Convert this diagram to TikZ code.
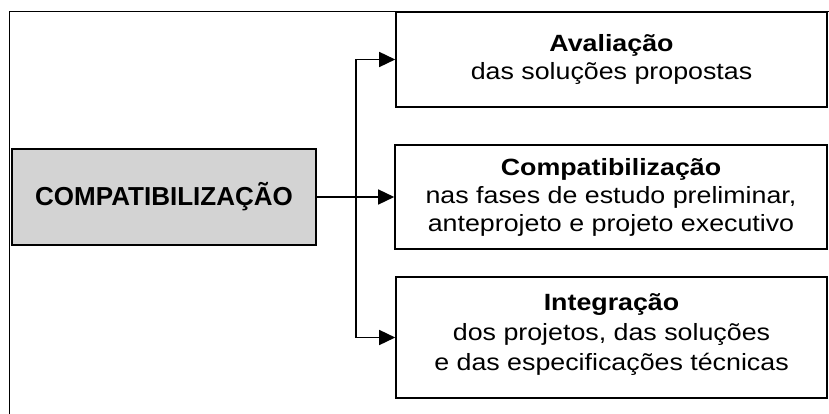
\documentclass[tikz,border=0pt]{standalone}
\usepackage{fontspec}
\setmainfont{Liberation Sans}
\newfontfamily\widefont[FakeStretch=1.14]{Liberation Sans}
\usetikzlibrary{arrows.meta}
\definecolor{boxgray}{RGB}{211,211,211}
\begin{document}
\begin{tikzpicture}[x=1pt,y=-1pt,
  box/.style={draw, line width=1.6pt, inner sep=0pt, align=center,
    font=\widefont\fontsize{23.5}{28}\selectfont},
  conn/.style={line width=1.5pt},
  tip/.style={-{Triangle[length=16pt,width=15pt]}}]
\useasboundingbox (0,0) rectangle (829,414);
\begin{scope}
  \clip (0,0) rectangle (829,414);
  \draw[line width=1.4pt] (9.5,11.5) rectangle (860,440);
\end{scope}
\node[box, fill=boxgray, minimum width=304pt, minimum height=96pt,
  font=\bfseries\fontsize{26}{30}\selectfont] (main) at (164,197) {COMPATIBILIZAÇÃO};
\node[box, minimum width=431pt, minimum height=95.5pt] (b1) at (611.5,59.5)
  {\textbf{Avaliação}\\das soluções propostas};
\node[box, minimum width=432pt, minimum height=104pt] (b2) at (611,197)
  {\textbf{Compatibilização}\\nas fases de estudo preliminar,\\anteprojeto e projeto executivo};
\node[box, minimum width=431pt, minimum height=121.5pt,
  font=\widefont\fontsize{23.5}{30}\selectfont] (b3) at (611.5,337.5)
  {\textbf{Integração}\\dos projetos, das soluções\\e das especificações técnicas\rule[-10pt]{0pt}{0pt}};
\coordinate (j) at (356,197);
\draw[conn, tip] (main.east) -- (b2.west);
\draw[conn, tip] (j) |- (b1.west);
\draw[conn, tip] (j) |- (b3.west);
\end{tikzpicture}
\end{document}
